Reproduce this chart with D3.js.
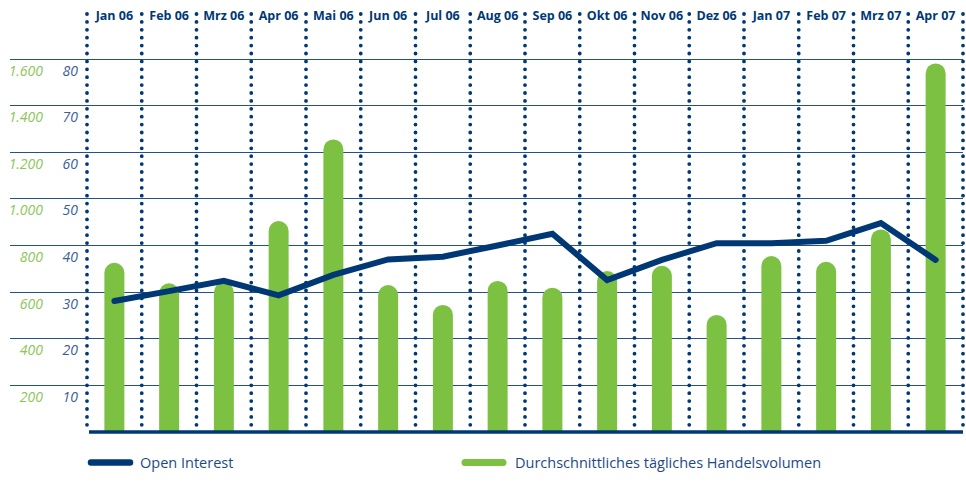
<!DOCTYPE html>
<html>
<head>
<meta charset="utf-8">
<script src="https://cdn.jsdelivr.net/npm/d3@7/dist/d3.min.js"></script>
<style>
  body { margin: 0; background: #fff; }
  svg { display: block; font-family: "Open Sans", sans-serif; }
</style>
</head>
<body>
<div id="chart"></div>
<script>
// data
var months = ["Jan 06", "Feb 06", "Mrz 06", "Apr 06", "Mai 06", "Jun 06", "Jul 06", "Aug 06",
              "Sep 06", "Okt 06", "Nov 06", "Dez 06", "Jan 07", "Feb 07", "Mrz 07", "Apr 07"];
var volume = [724, 636, 640, 903, 1253, 628, 543, 646, 617, 688, 711, 500, 753, 728, 867, 1579];
var openInterest = [28.0, 30.1, 32.3, 29.2, 33.6, 36.9, 37.5, 39.9, 42.4, 32.5, 36.8, 40.4, 40.4, 40.9, 44.7, 36.8];
var leftTicks = [200, 400, 600, 800, 1000, 1200, 1400, 1600];
var rightTicks = [10, 20, 30, 40, 50, 60, 70, 80];

var width = 966, height = 488;
var navy = "#003876", green = "#7dc142";

var svg = d3.select("#chart").append("svg")
    .attr("width", width)
    .attr("height", height);

var x = d3.scaleBand().domain(months).range([87, 963]);
var yR = d3.scaleLinear().domain([0, 80]).range([431.5, 58.5]);
var yL = d3.scaleLinear().domain([0, 1600]).range([431.5, 58.5]);

// horizontal grid
svg.append("g").selectAll("line")
    .data(rightTicks)
    .enter().append("line")
    .attr("x1", 10).attr("x2", 963)
    .attr("y1", function(d) { return Math.round(yR(d)) + 0.5; })
    .attr("y2", function(d) { return Math.round(yR(d)) + 0.5; })
    .attr("stroke", "#24508c")
    .attr("stroke-width", 1.2);

// left axis labels (volume)
svg.append("g").selectAll("text")
    .data(leftTicks)
    .enter().append("text")
    .attr("x", 43)
    .attr("y", function(d) { return yL(d) + 17; })
    .attr("text-anchor", "end")
    .style("font-style", "italic")
    .style("font-size", "14px")
    .attr("fill", "#8cc65a")
    .text(function(d) { return d3.format(",")(d).replace(",", "."); });

// right axis labels (open interest)
svg.append("g").selectAll("text")
    .data(rightTicks)
    .enter().append("text")
    .attr("x", 78)
    .attr("y", function(d) { return yR(d) + 17; })
    .attr("text-anchor", "end")
    .style("font-style", "italic")
    .style("font-size", "14px")
    .attr("fill", "#3b5f95")
    .text(function(d) { return d; });

// dotted month separators
var seps = months.map(function(m) { return x(m); }).concat([x.range()[1]]);
svg.append("g").selectAll("line")
    .data(seps)
    .enter().append("line")
    .attr("x1", function(d) { return d; })
    .attr("x2", function(d) { return d; })
    .attr("y1", 14).attr("y2", 427)
    .attr("stroke", navy)
    .attr("stroke-width", 3.8)
    .attr("stroke-linecap", "round")
    .attr("stroke-dasharray", "0 7.9");

// month labels
svg.append("g").selectAll("text")
    .data(months)
    .enter().append("text")
    .attr("x", function(d) { return x(d) + x.bandwidth() / 2; })
    .attr("y", 20)
    .attr("text-anchor", "middle")
    .style("font-weight", "bold")
    .style("font-size", "12.5px")
    .attr("fill", navy)
    .text(function(d) { return d; });

// bars with rounded tops
var bw = 20, r = bw / 2;
svg.append("g").selectAll("path")
    .data(months)
    .enter().append("path")
    .attr("fill", green)
    .attr("d", function(d, i) {
        var cx = x(d) + x.bandwidth() / 2;
        var top = yL(volume[i]);
        var x0 = cx - r, x1 = cx + r, y0 = yL(0);
        return "M" + x0 + "," + y0 + "L" + x0 + "," + (top + r) +
               "A" + r + "," + r + " 0 0 1 " + x1 + "," + (top + r) +
               "L" + x1 + "," + y0 + "Z";
    });

// baseline
svg.append("line")
    .attr("x1", 89).attr("x2", 963)
    .attr("y1", 432).attr("y2", 432)
    .attr("stroke", navy)
    .attr("stroke-width", 3.5);

// open interest line
var line = d3.line()
    .x(function(d, i) { return x(months[i]) + x.bandwidth() / 2; })
    .y(function(d) { return yR(d); });

svg.append("path")
    .datum(openInterest)
    .attr("fill", "none")
    .attr("stroke", navy)
    .attr("stroke-width", 6)
    .attr("stroke-linecap", "round")
    .attr("stroke-linejoin", "miter")
    .attr("d", line);

// legend
var legend = svg.append("g");
legend.append("line")
    .attr("x1", 91).attr("x2", 130)
    .attr("y1", 462.5).attr("y2", 462.5)
    .attr("stroke", navy).attr("stroke-width", 6.5)
    .attr("stroke-linecap", "round");
legend.append("text")
    .attr("x", 140).attr("y", 468)
    .style("font-size", "14.5px")
    .attr("fill", "#1d4a86")
    .text("Open Interest");
legend.append("line")
    .attr("x1", 465).attr("x2", 503)
    .attr("y1", 462.5).attr("y2", 462.5)
    .attr("stroke", green).attr("stroke-width", 7)
    .attr("stroke-linecap", "round");
legend.append("text")
    .attr("x", 515).attr("y", 468)
    .style("font-size", "14.5px")
    .attr("fill", "#1d4a86")
    .text("Durchschnittliches tägliches Handelsvolumen");
</script>
</body>
</html>
